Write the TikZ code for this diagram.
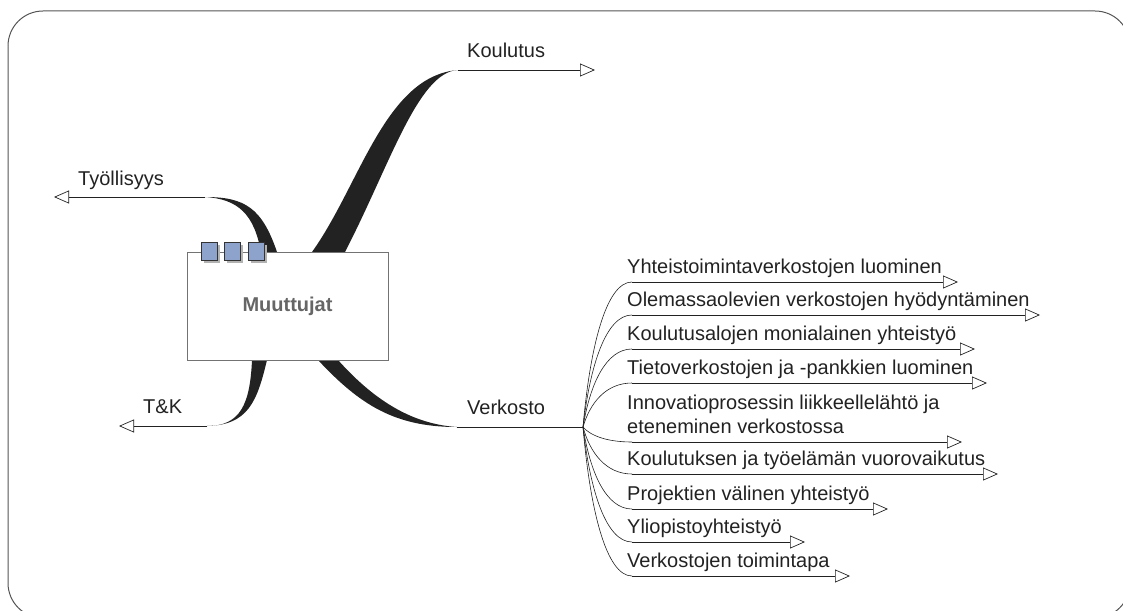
\documentclass[tikz,border=0pt]{standalone}
\usepackage{fontspec}
\setmainfont{Liberation Sans}
\usetikzlibrary{arrows.meta}
\definecolor{reuna}{HTML}{555555}
\definecolor{laatikko}{HTML}{8DA3CB}
\definecolor{teksti}{HTML}{222222}
\tikzset{
  nuoli/.style={-{Triangle[open,length=15pt,width=13pt]}, line width=0.7pt, teksti},
  haara/.style={fill=teksti},
  otsikko/.style={anchor=base west, inner sep=0pt, text=teksti, font=\fontsize{20}{24}\selectfont},
  ruutu/.style={draw=black!80, fill=laatikko, line width=0.8pt, minimum width=16pt, minimum height=18pt, inner sep=0pt}
}
\begin{document}
\begin{tikzpicture}[x=1pt, y=-1pt]
\useasboundingbox (0,0) rectangle (1123,610);
\begin{scope}
  \clip (0,0) rectangle (1123,610);
  \draw[reuna, line width=1pt, rounded corners=35pt] (8,11) rectangle (1130,618); % kehys
\end{scope}
\coordinate (kou) at (458,70); % haarojen ohuet päät
\coordinate (tyo) at (205,197);
\coordinate (tk) at (207,426);
\coordinate (verk) at (457,427);
\coordinate (J) at (583,427); % verkoston solmukohta
\fill[haara] (312,252) .. controls (360,185) and (385,76) .. (kou) .. controls (418,72) and (390,165) .. (345,252) -- cycle; % Koulutus
\fill[haara] (277,252) .. controls (262,208) and (245,197) .. (tyo) .. controls (238,199) and (254,214) .. (261,252) -- cycle; % Työllisyys
\fill[haara] (252,360) .. controls (250,405) and (240,426) .. (tk) .. controls (248,425) and (257,402) .. (267,360) -- cycle; % T&K
\fill[haara] (318,360) .. controls (360,405) and (395,427) .. (verk) .. controls (410,424) and (372,398) .. (338,360) -- cycle; % Verkosto
\node[draw=black!55, fill=white, line width=0.8pt, minimum width=201pt, minimum height=108pt,
      text=black!60, font=\fontsize{20}{24}\selectfont\bfseries] (muut) at (287.5,306) {Muuttujat};
\foreach \x [count=\i] in {209,232,256} {
  \fill[black!30] (\x+2.5,253.5) +(-8,-9) rectangle +(8,9); % varjo
  \node[ruutu] (r\i) at (\x,251) {};
}
\coordinate (kouK) at (595,70);
\coordinate (tyoK) at (54,197);
\coordinate (tkK) at (119,426);
\draw[nuoli] (kou) -- (kouK);
\draw[nuoli] (tyo) -- (tyoK);
\draw[nuoli] (tk) -- (tkK);
\draw[teksti, line width=0.8pt] (verk) -- (J);
\node[otsikko] (lkou) at (467,58) {Koulutus};
\node[otsikko] (ltyo) at (78,185) {Työllisyys};
\node[otsikko] (ltk) at (143,413) {T\&K};
\node[otsikko] (lverk) at (467,414) {Verkosto};
\foreach \y/\k/\t [count=\i] in {282/958/{Yhteistoimintaverkostojen luominen},
    315/1040/{Olemassaolevien verkostojen hyödyntäminen},
    349/975/{Koulutusalojen monialainen yhteistyö},
    383/987/{Tietoverkostojen ja -pankkien luominen},
    442/962/{Innovatioprosessin liikkeellelähtö ja\\eteneminen verkostossa},
    474/998/{Koulutuksen ja työelämän vuorovaikutus},
    509/888/{Projektien välinen yhteistyö},
    542/805/{Yliopistoyhteistyö},
    576/850/{Verkostojen toimintapa}} {
  \coordinate (a\i) at (632,\y);
  \coordinate (b\i) at (\k,\y);
  \draw[teksti, line width=0.6pt] (J) .. controls (590,{427+(\y-427)*0.55}) and (606,\y) .. (a\i); % alihaara
  \draw[nuoli] (a\i) -- (b\i);
  \node[otsikko, align=left] (s\i) at (627,\y-9) {\t};
}
\end{tikzpicture}
\end{document}
